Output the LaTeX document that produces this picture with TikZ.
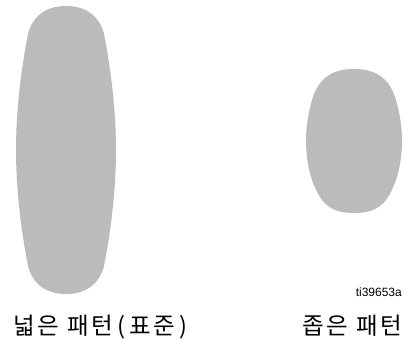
\documentclass[tikz,border=0pt]{standalone}
\usepackage{fontspec}
\setmainfont{Liberation Sans}
\newfontfamily\krfont[LetterSpace=12]{Noto Sans CJK KR}
\definecolor{shapegray}{RGB}{187,187,187}
\begin{document}
\begin{tikzpicture}[x=1pt,y=-1pt,
  blob/.style={fill=shapegray,draw=none},
  kr/.style={font=\krfont\fontsize{23.5}{24}\selectfont,inner sep=0pt,anchor=base west},
  tag/.style={font=\fontsize{12}{12}\selectfont,inner sep=0pt,anchor=east}]
\useasboundingbox (0,0) rectangle (406,339);
% wide pattern
\path[blob] (66,6) .. controls (88,6) and (100,18) .. (104,34)
  .. controls (112,75) and (116,115) .. (116,150)
  .. controls (116,185) and (112,225) .. (104,266)
  .. controls (100,282) and (88,294) .. (66,294)
  .. controls (44,294) and (32,282) .. (28,266)
  .. controls (20,225) and (16,185) .. (16,150)
  .. controls (16,115) and (20,75) .. (28,34)
  .. controls (32,18) and (44,6) .. (66,6) -- cycle;
% narrow pattern
\path[blob] (354,69) .. controls (378,69) and (390,80) .. (396,100)
  .. controls (400,114) and (402,128) .. (402,140)
  .. controls (402,165) and (396,186) .. (386,200)
  .. controls (378,210) and (368,213) .. (354,213)
  .. controls (340,213) and (330,210) .. (322,200)
  .. controls (312,186) and (306,165) .. (306,140)
  .. controls (306,128) and (308,114) .. (312,100)
  .. controls (318,80) and (330,69) .. (354,69) -- cycle;
\node[tag] (id) at (402,292) {ti39653a};
\node[kr] (wide) at (13,334.5) {넓은 패턴\kern4pt(\kern4pt표준\kern4pt)};
\node[kr] (narrow) at (302,334.5) {좁은 패턴};
\end{tikzpicture}
\end{document}
